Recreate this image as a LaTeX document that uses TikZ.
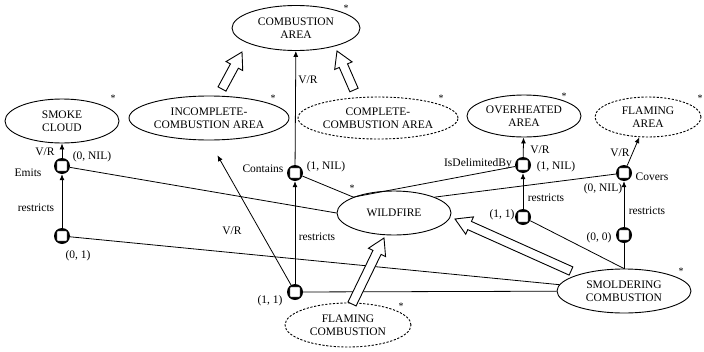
\documentclass[tikz,border=0pt]{standalone}
\usepackage{fontspec}
\setmainfont{Liberation Serif}
\usetikzlibrary{shapes.geometric,arrows.meta,calc}

\tikzset{
  txt/.style={font=\fontsize{11.5}{12.5}\selectfont, inner sep=0pt, align=center},
  concept/.style={ellipse, draw, line width=0.9pt, inner sep=0pt, fill=white},
  virtual/.style={concept, dash pattern=on 2.2pt off 1.6pt},
  rel/.style={line width=0.8pt},
  vr/.style={rel, -{Latex[length=6pt,width=5pt]}},
  star/.style={font=\fontsize{10}{10}\selectfont, inner sep=0pt},
  joint/.style={circle, fill=black, minimum size=16pt, inner sep=0pt,
    path picture={\filldraw[fill=white, draw=black, line width=0.5pt, rounded corners=1pt]
      ([shift={(-5.2pt,-5.2pt)}]path picture bounding box.center) rectangle
      ([shift={(5.2pt,5.2pt)}]path picture bounding box.center);}},
  hollow/.style={draw, fill=white, line width=0.9pt, line join=miter},
}

% hollow block arrow from #1 (tail) to #2 (tip)
\newcommand\blockarrow[2]{%
  \path (#1) coordinate (ba-t) (#2) coordinate (ba-p);
  \path ($(ba-p)!16pt!(ba-t)$) coordinate (ba-h);
  \draw[hollow] ($(ba-t)!4.5pt!90:(ba-p)$) -- ($(ba-h)!4.5pt!90:(ba-p)$)
    -- ($(ba-h)!9.5pt!90:(ba-p)$) -- (ba-p) -- ($(ba-h)!9.5pt!-90:(ba-p)$)
    -- ($(ba-h)!4.5pt!-90:(ba-p)$) -- ($(ba-t)!4.5pt!-90:(ba-p)$) -- cycle;
}

\begin{document}
\begin{tikzpicture}[x=1pt,y=-1pt]
\useasboundingbox (0,0) rectangle (704,351);
\fill[white] (0,0) rectangle (704,351);

% concepts
\node[concept, minimum width=128pt, minimum height=45pt,
  label={[txt]center:{COMBUSTION\\AREA}}] (comb) at (296,28) {};
\node[concept, minimum width=114pt, minimum height=44pt,
  label={[txt]center:{SMOKE\\CLOUD}}] (smoke) at (62,121) {};
\node[concept, minimum width=160pt, minimum height=44pt,
  label={[txt]center:{INCOMPLETE-\\COMBUSTION AREA}}] (inc) at (209,118) {};
\node[virtual, minimum width=160pt, minimum height=42pt,
  label={[txt]center:{COMPLETE-\\COMBUSTION AREA}}] (comp) at (378,118) {};
\node[concept, minimum width=114pt, minimum height=42pt,
  label={[txt]center:{OVERHEATED\\AREA}}] (over) at (524,116) {};
\node[virtual, minimum width=106pt, minimum height=40pt,
  label={[txt]center:{FLAMING\\AREA}}] (flarea) at (648,117) {};
\node[concept, minimum width=114pt, minimum height=44pt,
  label={[txt]center:{WILDFIRE}}] (wild) at (394,213) {};
\node[concept, minimum width=134pt, minimum height=44pt,
  label={[txt]center:{SMOLDERING\\COMBUSTION}}] (smold) at (624,291) {};
\node[virtual, minimum width=126pt, minimum height=44pt,
  label={[txt]center:{FLAMING\\COMBUSTION}}] (flcomb) at (348,325) {};

% asterisks
\node[star] (st-comb) at (346,8) {*};
\node[star] (st-smoke) at (113,98) {*};
\node[star] (st-inc) at (273,98) {*};
\node[star] (st-comp) at (441,98) {*};
\node[star] (st-over) at (564,96) {*};
\node[star] (st-flarea) at (700,98) {*};
\node[star] (st-wild) at (352,188) {*};
\node[star] (st-smold) at (681,271) {*};
\node[star] (st-flcomb) at (401,306) {*};

% relation joints
\node[joint] (j1) at (62,166) {};
\node[joint] (j2) at (62,236) {};
\node[joint] (j3) at (295,173) {};
\node[joint] (j4) at (295,292) {};
\node[joint] (j5) at (523,165) {};
\node[joint] (j6) at (523,217) {};
\node[joint] (j7) at (624,173) {};
\node[joint] (j8) at (624,235) {};

% plain links
\draw[rel] (j1) -- (wild.west);
\draw[rel] (j2) -- (smold);
\draw[rel] (j3) -- (wild.north west);
\draw[rel] (j5) -- (wild.north west);
\draw[rel] (j7) -- (wild.north east);
\draw[rel] (j4) -- (smold);
\draw[rel] (j6) -- (smold.north);
\draw[rel] (j8) -- (smold.north);

% directed links
\draw[vr] (j1) -- (smoke);
\draw[vr] (j2) -- (j1);
\draw[vr] (j3) -- (comb);
\draw[vr] (j4) -- (j3);
\draw[vr, shorten >=17pt] (j4) -- (inc.south);
\draw[vr] (j5) -- (over);
\draw[vr] (j6) -- (j5);
\draw[vr] (j7) -- (flarea);
\draw[vr] (j8) -- (j7);

% specialisation arrows
\coordinate (a1t) at (222,89);  \coordinate (a1p) at (242,52);
\coordinate (a2t) at (354,90);  \coordinate (a2p) at (337,51);
\coordinate (a3t) at (352,304); \coordinate (a3p) at (384,238);
\coordinate (a4t) at (571,271); \coordinate (a4p) at (455,219);
\blockarrow{a1t}{a1p}
\blockarrow{a2t}{a2p}
\blockarrow{a3t}{a3p}
\blockarrow{a4t}{a4p}

% labels
\node[txt] (l1) at (45,152) {V/R};
\node[txt] (l2) at (92,157) {(0, NIL)};
\node[txt] (l3) at (28,173) {Emits};
\node[txt] (l4) at (36,208) {restricts};
\node[txt] (l5) at (78,256) {(0, 1)};
\node[txt] (l6) at (263,169) {Contains};
\node[txt] (l7) at (326,167) {(1, NIL)};
\node[txt] (l8) at (308,80) {V/R};
\node[txt] (l9) at (232,231) {V/R};
\node[txt] (l10) at (317,237) {restricts};
\node[txt] (l11) at (270,301) {(1, 1)};
\node[txt] (l12) at (478,164) {IsDelimitedBy};
\node[txt] (l13) at (556,167) {(1, NIL)};
\node[txt] (l14) at (540,150) {V/R};
\node[txt] (l15) at (546,198) {restricts};
\node[txt] (l16) at (502,215) {(1, 1)};
\node[txt] (l17) at (620,153) {V/R};
\node[txt] (l18) at (652,177) {Covers};
\node[txt] (l19) at (603,189) {(0, NIL)};
\node[txt] (l20) at (647,211) {restricts};
\node[txt] (l21) at (599,238) {(0, 0)};
\end{tikzpicture}
\end{document}
